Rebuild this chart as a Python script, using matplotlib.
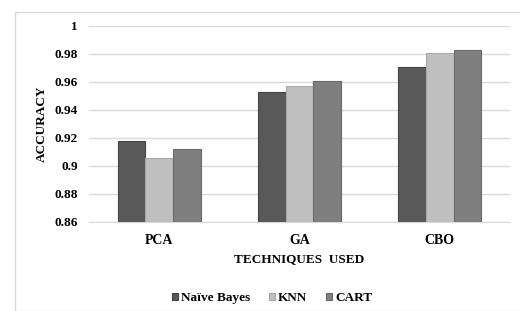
import matplotlib.pyplot as plt
import numpy as np
from matplotlib.patches import Rectangle

plt.rcParams["font.family"] = ["Liberation Serif", "DejaVu Serif"]
plt.rcParams["font.weight"] = "bold"
plt.rcParams["axes.labelweight"] = "bold"

tecnicas = ["PCA", "GA", "CBO"]
clasificadores = ["Naïve Bayes", "KNN", "CART"]
naive_bayes = [0.918, 0.953, 0.971]
knn = [0.906, 0.957, 0.981]
cart = [0.912, 0.961, 0.983]
colores = ["#595959", "#bfbfbf", "#7f7f7f"]
bordes = ["#444444", "#a8a8a8", "#6a6a6a"]
y_ticks = [0.86, 0.88, 0.9, 0.92, 0.94, 0.96, 0.98, 1]
y_ticklabels = ["0.86", "0.88", "0.9", "0.92", "0.94", "0.96", "0.98", "1"]

fig = plt.figure(figsize=(5.2, 3.11), dpi=100)
ax = fig.add_axes([89 / 520, 1 - 222 / 311, 421 / 520, 196 / 311])

# marco del área del gráfico
fig.patches.append(Rectangle((15 / 520, 0), 1, 1 - 12 / 311, transform=fig.transFigure,
                             fill=False, edgecolor="#d9d9d9", linewidth=1.0))

x = np.arange(len(tecnicas))
ancho = 0.197
for k, (vals, nombre) in enumerate(zip([naive_bayes, knn, cart], clasificadores)):
    ax.bar(x + (k - 1) * ancho, np.array(vals) - 0.86, ancho, bottom=0.86,
           color=colores[k], edgecolor=bordes[k], linewidth=0.8, label=nombre, zorder=3)

ax.set_xlim(-0.5, 2.5)
ax.set_ylim(0.86, 1.0)
ax.set_yticks(y_ticks)
ax.set_yticklabels(y_ticklabels, fontsize=9.5, fontweight="bold")
ax.set_xticks(x)
ax.set_xticklabels(tecnicas, fontsize=10, fontweight="bold")
ax.yaxis.grid(True, color="#d9d9d9", linewidth=1.0, zorder=0)
for s in ax.spines.values():
    s.set_visible(False)
ax.spines["bottom"].set_visible(True)
ax.spines["bottom"].set_color("#d9d9d9")
ax.tick_params(axis="x", length=0, pad=9)
ax.tick_params(axis="y", length=0, pad=8)

ax.set_xlabel("TECHNIQUES  USED", fontsize=9.5, fontweight="bold", labelpad=4)
ax.set_ylabel("ACCURACY", fontsize=9.5, fontweight="bold", labelpad=5)

fig.legend(loc="center", bbox_to_anchor=(272 / 520, 1 - 298 / 311), ncol=3, frameon=False,
           prop={"size": 9.5, "weight": "bold"}, handlelength=0.5, handleheight=0.5,
           handletextpad=0.2, columnspacing=1.4)

fig.savefig("out.png", dpi=100)
